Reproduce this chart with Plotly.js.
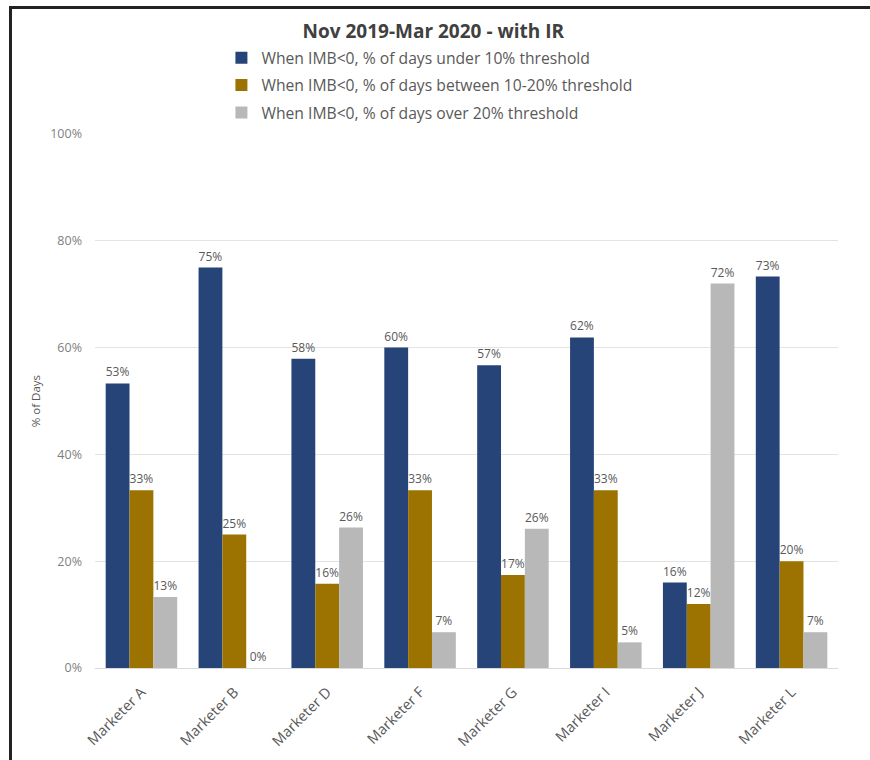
<!DOCTYPE html>
<html>
<head>
<meta charset="utf-8">
<script src="https://cdn.plot.ly/plotly-3.0.1.min.js"></script>
<style>
  html, body { margin: 0; padding: 0; background: #ffffff; }
  #wrap { position: relative; width: 870px; height: 760px; }
  #chart { position: absolute; left: 0; top: 0; width: 870px; height: 760px; }
  #frame { position: absolute; left: 9px; top: 6px; width: 870px; height: 770px;
           border-left: 3px solid #222; border-top: 3px solid #222; pointer-events: none; box-sizing: border-box; }
</style>
</head>
<body>
<div id="wrap">
  <div id="chart"></div>
  <div id="frame"></div>
</div>
<script>
const categories = ["Marketer A", "Marketer B", "Marketer D", "Marketer F", "Marketer G", "Marketer I", "Marketer J", "Marketer L"];
const under10 = [0.533, 0.75, 0.579, 0.60, 0.567, 0.619, 0.16, 0.733];
const between10to20 = [0.333, 0.25, 0.158, 0.333, 0.174, 0.333, 0.12, 0.20];
const over20 = [0.133, 0.0, 0.263, 0.067, 0.261, 0.048, 0.72, 0.067];
const seriesNames = [
  "When IMB<0, % of days under 10% threshold",
  "When IMB<0, % of days between 10-20% threshold",
  "When IMB<0, % of days over 20% threshold"
];
const colors = ["#264478", "#9c7300", "#b8b8b8"];
const yTickVals = [0, 0.2, 0.4, 0.6, 0.8, 1.0];
const yTickText = ["0%", "20%", "40%", "60%", "80%", "100%"];
const yTitle = "% of Days";

const font = "'Open Sans', 'Noto Sans', sans-serif";
const series = [under10, between10to20, over20];
const traces = series.map((vals, i) => ({
  type: "bar",
  name: seriesNames[i],
  x: categories,
  y: vals,
  marker: { color: colors[i] },
  legendgroup: "g" + i,
  texttemplate: "%{y:.0%}",
  textposition: "outside",
  constraintext: "none",
  cliponaxis: false,
  textfont: { family: font, size: 12, color: "#595959" },
  hoverinfo: "skip"
}));

const layout = {
  width: 870,
  height: 760,
  paper_bgcolor: "#ffffff",
  plot_bgcolor: "#ffffff",
  font: { family: font, color: "#595959" },
  margin: { l: 95, r: 32, t: 134, b: 92, autoexpand: false },
  barmode: "group",
  bargap: 0.23,
  bargroupgap: 0,
  title: {
    text: "<b>Nov 2019-Mar 2020 - with IR</b>",
    font: { family: font, size: 19, color: "#404040" },
    x: 0.498, xanchor: "center",
    y: 1 - 31 / 760, yanchor: "middle",
    xref: "container", yref: "container"
  },
  showlegend: true,
  legend: {
    orientation: "v",
    xref: "container", yref: "container",
    x: 0.2545, xanchor: "left",
    y: 1 - 41 / 760, yanchor: "top",
    font: { family: font, size: 15.7, color: "#595959" },
    traceorder: "grouped",
    tracegroupgap: 4,
    bgcolor: "rgba(0,0,0,0)",
    itemclick: false
  },
  annotations: [{
    text: yTitle,
    xref: "paper", yref: "paper",
    x: -0.0805, y: 0.5,
    xanchor: "center", yanchor: "middle",
    textangle: -90,
    showarrow: false,
    font: { family: font, size: 11.5, color: "#595959" }
  }],
  xaxis: {
    type: "category",
    tickangle: -45,
    tickfont: { family: font, size: 14.5, color: "#595959" },
    showgrid: false,
    showline: true,
    linecolor: "#d9d9d9",
    linewidth: 1,
    ticks: "",
    ticklabelstandoff: 9,
    automargin: false,
    fixedrange: true
  },
  yaxis: {
    range: [0, 1],
    tickvals: yTickVals,
    ticktext: yTickText,
    tickfont: { family: font, size: 12.5, color: "#7f7f7f" },
    showgrid: true,
    gridcolor: "#e3e3e3",
    gridwidth: 1,
    zeroline: false,
    showline: false,
    ticks: "",
    ticklabelstandoff: 12,
    automargin: false,
    fixedrange: true
  }
};

Plotly.newPlot("chart", traces, layout, { displayModeBar: false, staticPlot: true });
</script>
</body>
</html>
